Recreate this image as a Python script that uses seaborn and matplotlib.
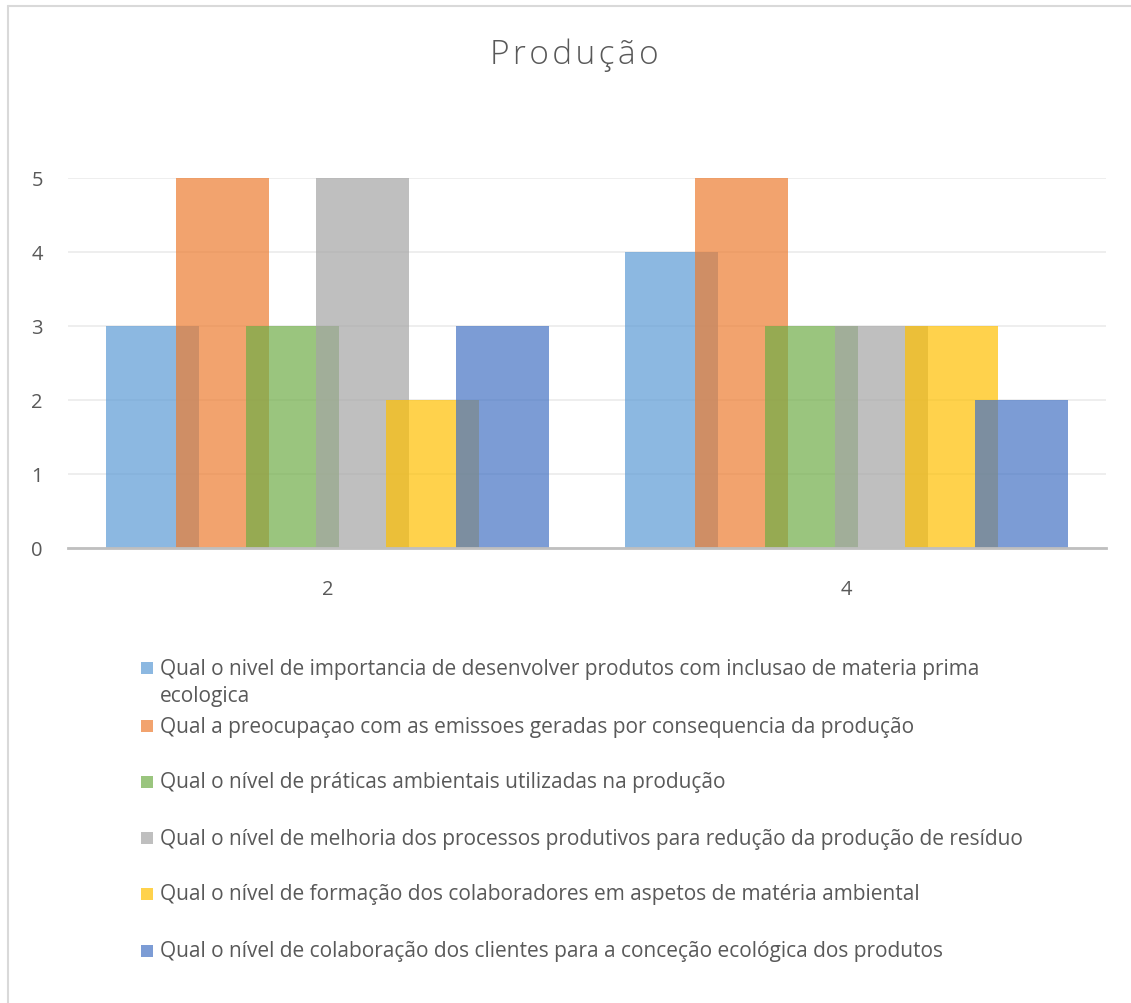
import matplotlib
matplotlib.use("Agg")
import matplotlib.pyplot as plt
import seaborn as sns
import pandas as pd
from matplotlib.patches import Rectangle
from matplotlib.lines import Line2D

categories = ["2", "4"]
series_names = [
    "Qual o nivel de importancia de desenvolver produtos com inclusao de materia prima\necologica",
    "Qual a preocupaçao com as emissoes geradas por consequencia da produção",
    "Qual o nível de práticas ambientais utilizadas na produção",
    "Qual o nível de melhoria dos processos produtivos para redução da produção de resíduo",
    "Qual o nível de formação dos colaboradores em aspetos de matéria ambiental",
    "Qual o nível de colaboração dos clientes para a conceção ecológica dos produtos",
]
values = [
    [3, 4],
    [5, 5],
    [3, 3],
    [5, 3],
    [2, 3],
    [3, 2],
]
colors = ["#5B9BD5", "#ED7D31", "#70AD47", "#A5A5A5", "#FFC000", "#4472C4"]
title = "Produção"

rows = []
for name, vals in zip(series_names, values):
    for c, v in zip(categories, vals):
        rows.append({"cat": c, "val": v, "series": name})
df = pd.DataFrame(rows)

sns.set_style("white")
plt.rcParams["font.family"] = ["Open Sans", "DejaVu Sans"]

W, H = 1131, 1004
fig = plt.figure(figsize=(W / 100, H / 100), dpi=100)
ax = fig.add_axes([68 / W, 1 - 549 / H, (1106 - 68) / W, (549 - 179) / H])

step = 70 / 519.0
bw = 93 / 519.0
sns.barplot(data=df, x="cat", y="val", hue="series", hue_order=series_names,
            order=categories, palette=colors, dodge=True, width=step * 6,
            saturation=1, alpha=0.7, linewidth=0, ax=ax, legend=False,
            errorbar=None)
for p in ax.patches:
    cx = p.get_x() + p.get_width() / 2
    p.set_width(bw)
    p.set_x(cx - bw / 2)
    p.set_alpha(0.7)

ax.set_xlim(-0.5, 1.5)
ax.set_ylim(0, 5)
ax.set_yticks(range(0, 6))
ax.yaxis.grid(True, color="#EBEBEB", linewidth=1.2)
ax.set_axisbelow(True)
for s in ["top", "right", "left"]:
    ax.spines[s].set_visible(False)
ax.spines["bottom"].set_color("#BFBFBF")
ax.spines["bottom"].set_linewidth(2)
ax.spines["bottom"].set_zorder(5)
ax.tick_params(axis="both", length=0, labelsize=14.5, labelcolor="#595959")
ax.tick_params(axis="y", pad=18)
ax.tick_params(axis="x", pad=22)
ax.set_xlabel("")
ax.set_ylabel("")

fig.text(574 / W, 1 - 55 / H, "\u200a".join(title), ha="center", va="center",
         fontsize=24, color="#595959", fontweight="light",
         family=["Open Sans", "DejaVu Sans"])

# frame lines
fig.add_artist(Line2D([7.5 / W, 7.5 / W], [0, 1 - 6.5 / H], transform=fig.transFigure,
                      color="#D9D9D9", linewidth=1.5))
fig.add_artist(Line2D([7.5 / W, 1], [1 - 6.5 / H, 1 - 6.5 / H], transform=fig.transFigure,
                      color="#D9D9D9", linewidth=1.5))

# legend (manual)
line_y = [669, 727, 783, 839, 895, 952]
for name, col, y in zip(series_names, colors, line_y):
    fig.add_artist(Rectangle((141 / W, 1 - (y + 6) / H), 12 / W, 12 / H,
                             transform=fig.transFigure, facecolor=col, alpha=0.7,
                             edgecolor="none"))
    nlines = name.count("\n") + 1
    yc = y + (nlines - 1) * 28 / 2
    fig.text(160 / W, 1 - yc / H, name, ha="left", va="center",
             fontsize=15.05, color="#595959", linespacing=1.34)

fig.savefig("out.png", dpi=100, facecolor="white")
